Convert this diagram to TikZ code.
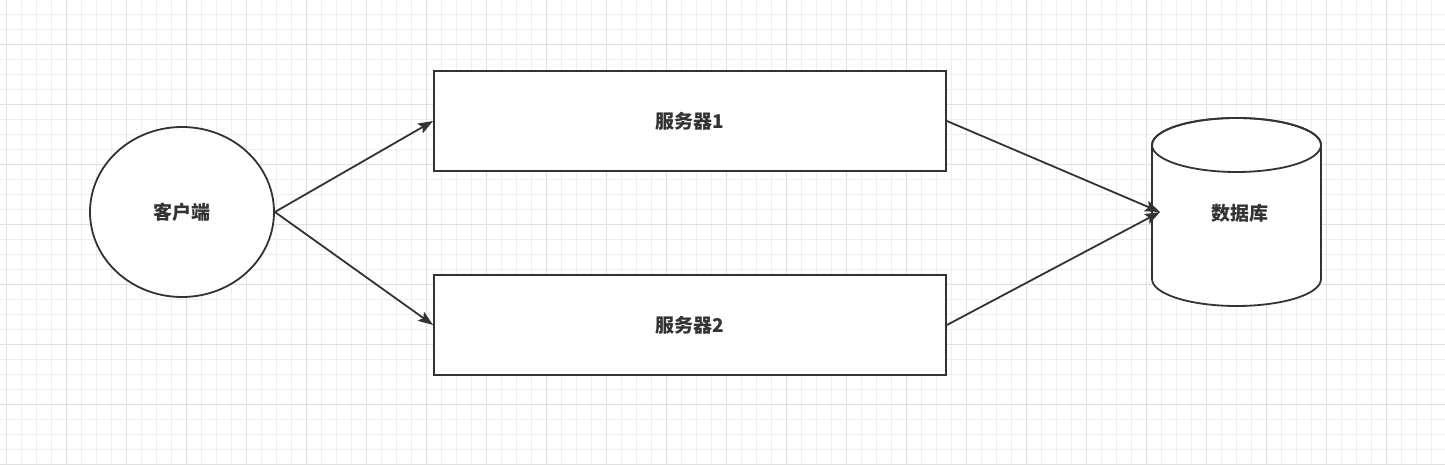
\documentclass[tikz,border=0pt]{standalone}
\usepackage{fontspec}
\newfontfamily\cjk{Noto Sans CJK SC}
\usetikzlibrary{shapes.geometric,arrows.meta}
\definecolor{gridminor}{HTML}{EEEEEE}
\definecolor{gridmajor}{HTML}{E0E0E0}
\definecolor{ink}{HTML}{333333}
\tikzset{
  shapeline/.style={draw=ink, line width=1.8pt, fill=white},
  lbl/.style={text=ink, font=\cjk\bfseries\fontsize{19pt}{22pt}\selectfont},
  arr/.style={draw=ink, line width=1.8pt, -{Stealth[length=15pt,width=11pt,inset=3pt]}},
}
\begin{document}
\begin{tikzpicture}[x=1pt,y=-1pt]
\useasboundingbox (0,0) rectangle (1445,465);
\fill[white] (0,0) rectangle (1445,465);
% grid
\foreach \i in {0,...,96}{
  \pgfmathsetmacro{\xx}{6.7+15*\i}
  \draw[gridminor, line width=1pt] (\xx,0) -- (\xx,465);
}
\foreach \i in {0,...,31}{
  \pgfmathsetmacro{\yy}{-0.7+15*\i}
  \draw[gridminor, line width=1pt] (0,\yy) -- (1445,\yy);
}
\foreach \i in {0,...,24}{
  \pgfmathsetmacro{\xx}{6.7+60*\i}
  \draw[gridmajor, line width=1pt] (\xx,0) -- (\xx,465);
}
\foreach \i in {0,...,8}{
  \pgfmathsetmacro{\yy}{44.3+60*\i}
  \draw[gridmajor, line width=1pt] (0,\yy) -- (1445,\yy);
}
% nodes
\node[shapeline, ellipse, minimum width=184pt, minimum height=170pt, inner sep=0pt, lbl] (client) at (182,212) {客户端};
\node[shapeline, rectangle, minimum width=512pt, minimum height=100pt, inner sep=0pt, lbl] (s1) at (690,121) {服务器1};
\node[shapeline, rectangle, minimum width=512pt, minimum height=100pt, inner sep=0pt, lbl] (s2) at (690,325) {服务器2};
% cylinder
\path[shapeline] (1152,145) -- (1152,279) arc[start angle=180, end angle=0, x radius=84.5, y radius=27] -- (1321,145) arc[start angle=0, end angle=-180, x radius=84.5, y radius=27] -- cycle;
\draw[draw=ink, line width=1.8pt] (1236.5,145) ellipse[x radius=84.5, y radius=27];
\node[lbl] (db) at (1240,213) {数据库};
\coordinate (dbin) at (1160,212);
% connectors
\draw[arr] (client.east) -- (s1.west);
\draw[arr] (client.east) -- (s2.west);
\draw[arr] (s1.east) -- (dbin);
\draw[arr] (s2.east) -- (dbin);
\end{tikzpicture}
\end{document}
